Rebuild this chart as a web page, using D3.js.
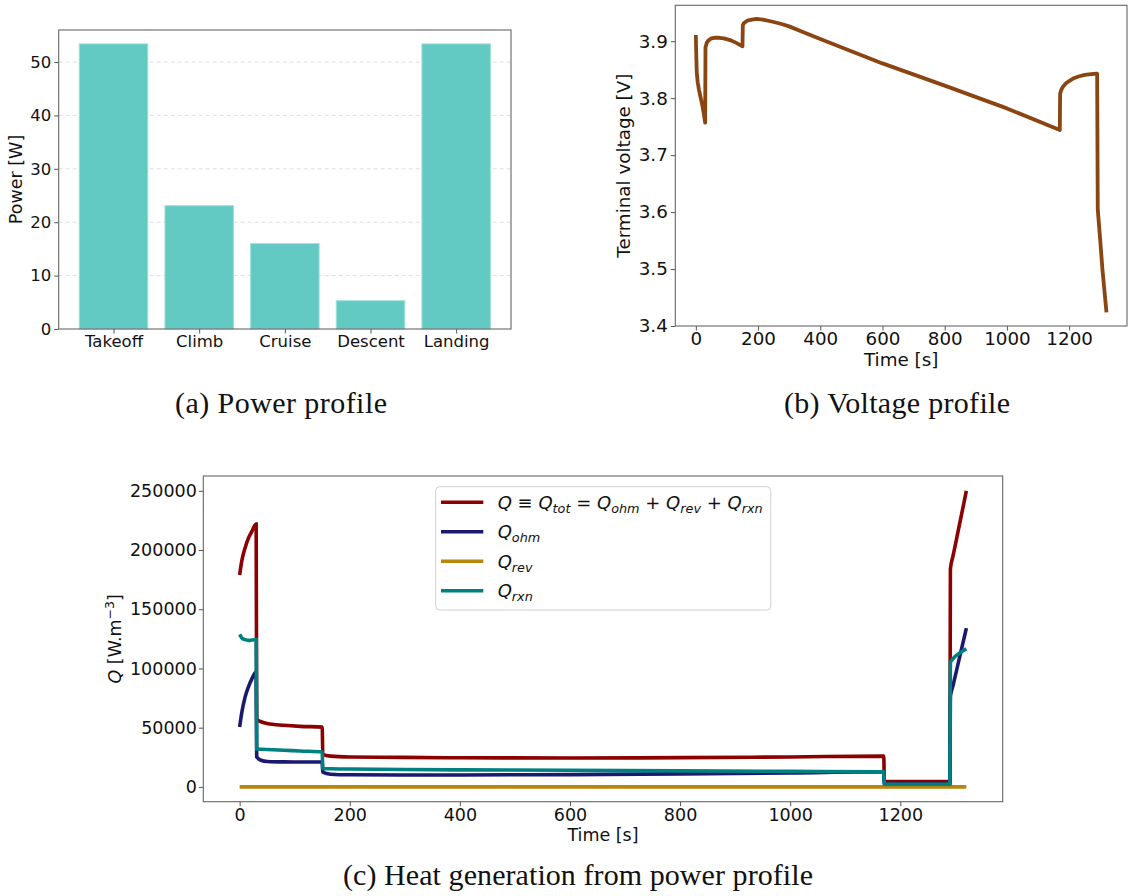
<!DOCTYPE html>
<html>
<head>
<meta charset="utf-8">
<script src="https://cdn.jsdelivr.net/npm/d3@7"></script>
<style>
    body { margin: 0; background: #fff; }
    svg text { font-family: "DejaVu Sans", sans-serif; fill: #111; }
    .caption { font-family: "Liberation Serif", serif; }
</style>
</head>
<body>
<div id="figure"></div>
<script>
// Panel (a): power profile
const phases = ["Takeoff", "Climb", "Cruise", "Descent", "Landing"];
const power = [53.4, 23.1, 16.0, 5.3, 53.4];
const powerTicks = [0, 10, 20, 30, 40, 50];

// Panel (b): terminal voltage
const voltTime = [0, 1, 3, 6, 10, 15, 20, 25, 30, 31, 35, 40, 50, 60, 75, 90, 110, 130, 150, 151, 155, 165, 180, 195, 215, 240, 270, 300, 350, 400, 600, 800, 1000, 1170, 1171, 1175, 1180, 1190, 1200, 1215, 1230, 1250, 1270, 1290, 1292, 1300, 1307, 1320];
const voltage = [3.911, 3.885, 3.845, 3.828, 3.815, 3.802, 3.790, 3.775, 3.757, 3.889, 3.897, 3.901, 3.905, 3.906, 3.906, 3.905, 3.902, 3.897, 3.891, 3.928, 3.932, 3.936, 3.938, 3.939, 3.938, 3.935, 3.931, 3.926, 3.915, 3.904, 3.861, 3.822, 3.782, 3.744, 3.808, 3.815, 3.820, 3.826, 3.830, 3.835, 3.838, 3.841, 3.842, 3.843, 3.605, 3.550, 3.500, 3.424];
const voltTicks = [3.4, 3.5, 3.6, 3.7, 3.8, 3.9];
const timeTicks = [0, 200, 400, 600, 800, 1000, 1200];

// Panel (c): heat generation
const timeQ = [0, 4, 10, 16, 22, 30, 31, 40, 50, 80, 110, 150, 151, 165, 200, 300, 400, 600, 800, 1000, 1170, 1171, 1290, 1291, 1296, 1302, 1308, 1314, 1320];
const qTot = [179000, 191000, 202000, 210000, 215500, 222000, 56800, 54800, 53500, 52000, 51100, 50500, 27500, 26000, 25300, 24900, 24600, 24400, 24700, 25300, 26000, 4500, 4500, 184000, 195400, 209000, 222700, 236300, 250000];
const qOhm = [50600, 63000, 76000, 84500, 91000, 97000, 25300, 22300, 21500, 21100, 21000, 21000, 12400, 10700, 10200, 10000, 10100, 10400, 11000, 11800, 12800, 2300, 2300, 76000, 86000, 98000, 110000, 122000, 134000];
const qRev = [0, 0, 0, 0, 0, 0, 0, 0, 0, 0, 0, 0, 0, 0, 0, 0, 0, 0, 0, 0, 0, 0, 0, 0, 0, 0, 0, 0, 0];
const qRxn = [128700, 125800, 124300, 123700, 124000, 124500, 32000, 31800, 31600, 31000, 30300, 29500, 15500, 15300, 15100, 14700, 14400, 14000, 13500, 13100, 12700, 2200, 2200, 105000, 108300, 111000, 113000, 115000, 116600];
const qTicks = [0, 50000, 100000, 150000, 200000, 250000];

document.addEventListener('DOMContentLoaded', function () {
    const width = 1130;
    const height = 896;

    const svg = d3.select("#figure")
        .append("svg")
        .attr("width", width)
        .attr("height", height);

    // small helper to style an axis like matplotlib
    function styleAxis(g, size) {
        g.select(".domain").remove();
        g.selectAll(".tick line").attr("stroke", "#555").attr("stroke-width", 1);
        g.selectAll(".tick text").attr("font-size", size).attr("fill", "#111");
    }

    function frame(box) {
        svg.append("rect")
            .attr("x", box.left).attr("y", box.top)
            .attr("width", box.right - box.left)
            .attr("height", box.bottom - box.top)
            .attr("fill", "none")
            .attr("stroke", "#666")
            .attr("stroke-width", 1.1);
    }

    function caption(text, cx, y, len) {
        svg.append("text")
            .attr("class", "caption")
            .attr("x", cx).attr("y", y)
            .attr("text-anchor", "middle")
            .attr("font-size", 30)
            .attr("textLength", len)
            .attr("lengthAdjust", "spacing")
            .text(text);
    }

    // ---------------- (a) bar chart ----------------
    const boxA = { left: 58.7, top: 30, right: 511, bottom: 329 };
    const xA = d3.scaleLinear().domain([-0.64, 4.64]).range([boxA.left, boxA.right]);
    const yA = d3.scaleLinear().domain([0, 56]).range([boxA.bottom, boxA.top]);

    // dashed grid
    svg.append("g")
        .selectAll("line")
        .data(powerTicks.slice(1))
        .enter().append("line")
        .attr("x1", boxA.left).attr("x2", boxA.right)
        .attr("y1", d => yA(d)).attr("y2", d => yA(d))
        .attr("stroke", "#d6d6d6")
        .attr("stroke-dasharray", "4,3")
        .attr("stroke-width", 0.8);

    svg.append("g")
        .selectAll("rect")
        .data(power)
        .enter().append("rect")
        .attr("x", (d, i) => xA(i - 0.4))
        .attr("width", xA(0.4) - xA(-0.4))
        .attr("y", d => yA(d))
        .attr("height", d => yA(0) - yA(d))
        .attr("fill", "#63c9c3")
        .attr("stroke", "#9fe0db")
        .attr("stroke-width", 1);

    const axA_y = svg.append("g")
        .attr("transform", `translate(${boxA.left},0)`)
        .call(d3.axisLeft(yA).tickValues(powerTicks).tickFormat(d3.format("d")).tickSize(4.5).tickPadding(3));
    styleAxis(axA_y, 16.5);

    const axA_x = svg.append("g")
        .attr("transform", `translate(0,${boxA.bottom})`)
        .call(d3.axisBottom(xA).tickValues(d3.range(phases.length)).tickFormat(i => phases[i]).tickSize(4.5).tickPadding(2));
    styleAxis(axA_x, 16.5);

    frame(boxA);

    svg.append("text")
        .attr("transform", `translate(22,${(boxA.top + boxA.bottom) / 2}) rotate(-90)`)
        .attr("text-anchor", "middle")
        .attr("font-size", 17.5)
        .text("Power [W]");

    caption("(a) Power profile", 281, 413, 212);

    // ---------------- (b) voltage ----------------
    const boxB = { left: 675.3, top: 5.3, right: 1127, bottom: 326 };
    const xB = d3.scaleLinear().domain([-66, 1386]).range([boxB.left, boxB.right]);
    const yB = d3.scaleLinear().domain([3.4, 3.963]).range([boxB.bottom, boxB.top]);

    const voltLine = d3.line()
        .x((d, i) => xB(voltTime[i]))
        .y(d => yB(d));

    svg.append("path")
        .datum(voltage)
        .attr("d", voltLine)
        .attr("fill", "none")
        .attr("stroke", "#8b4513")
        .attr("stroke-width", 3.8)
        .attr("stroke-linejoin", "round");

    const axB_y = svg.append("g")
        .attr("transform", `translate(${boxB.left},0)`)
        .call(d3.axisLeft(yB).tickValues(voltTicks).tickFormat(d3.format(".1f")).tickSize(4.5).tickPadding(3));
    styleAxis(axB_y, 18.3);

    const axB_x = svg.append("g")
        .attr("transform", `translate(0,${boxB.bottom})`)
        .call(d3.axisBottom(xB).tickValues(timeTicks).tickFormat(d3.format("d")).tickSize(4.5).tickPadding(2));
    styleAxis(axB_x, 18.3);

    frame(boxB);

    svg.append("text")
        .attr("x", (boxB.left + boxB.right) / 2)
        .attr("y", 366)
        .attr("text-anchor", "middle")
        .attr("font-size", 18.3)
        .text("Time [s]");

    svg.append("text")
        .attr("transform", `translate(629.5,${(boxB.top + boxB.bottom) / 2}) rotate(-90)`)
        .attr("text-anchor", "middle")
        .attr("font-size", 18.3)
        .text("Terminal voltage [V]");

    caption("(b) Voltage profile", 897, 413, 226);

    // ---------------- (c) heat generation ----------------
    const boxC = { left: 203.3, top: 476, right: 1002.7, bottom: 801.7 };
    const xC = d3.scaleLinear().domain([-66, 1386]).range([boxC.left, boxC.right]);
    const yC = d3.scaleLinear().domain([-12500, 262500]).range([boxC.bottom, boxC.top]);

    const qLine = d3.line()
        .x((d, i) => xC(timeQ[i]))
        .y(d => yC(d))
        .curve(d3.curveMonotoneX);

    const series = [
        { name: "tot", values: qTot, color: "#8b0000" },
        { name: "ohm", values: qOhm, color: "#191970" },
        { name: "rev", values: qRev, color: "#b8860b" },
        { name: "rxn", values: qRxn, color: "#008080" }
    ];

    svg.append("g")
        .selectAll("path")
        .data(series)
        .enter().append("path")
        .attr("d", d => qLine(d.values))
        .attr("fill", "none")
        .attr("stroke", d => d.color)
        .attr("stroke-width", 3.6);

    const axC_y = svg.append("g")
        .attr("transform", `translate(${boxC.left},0)`)
        .call(d3.axisLeft(yC).tickValues(qTicks).tickFormat(d3.format("d")).tickSize(4.5).tickPadding(2));
    styleAxis(axC_y, 17.5);

    const axC_x = svg.append("g")
        .attr("transform", `translate(0,${boxC.bottom})`)
        .call(d3.axisBottom(xC).tickValues(timeTicks).tickFormat(d3.format("d")).tickSize(4.5).tickPadding(2));
    styleAxis(axC_x, 17.5);

    frame(boxC);

    svg.append("text")
        .attr("x", (boxC.left + boxC.right) / 2)
        .attr("y", 841)
        .attr("text-anchor", "middle")
        .attr("font-size", 17.5)
        .text("Time [s]");

    const yLabC = svg.append("text")
        .attr("transform", `translate(121,${(boxC.top + boxC.bottom) / 2}) rotate(-90)`)
        .attr("text-anchor", "middle")
        .attr("font-size", 17.5);
    yLabC.append("tspan").attr("font-style", "italic").text("Q");
    yLabC.append("tspan").text(" [W.m");
    yLabC.append("tspan").attr("font-size", 12.5).attr("dy", -7).text("\u22123");
    yLabC.append("tspan").attr("dy", 7).text("]");

    // legend
    svg.append("rect")
        .attr("x", 435.7).attr("y", 486.7)
        .attr("width", 335).attr("height", 123.3)
        .attr("rx", 4)
        .attr("fill", "white").attr("fill-opacity", 0.8)
        .attr("stroke", "#d0d0d0");

    const legendRows = [
        [["Q", "i"], [" \u2261 ", "n"], ["Q", "i"], ["tot", "s"], [" = ", "n"], ["Q", "i"], ["ohm", "s"], [" + ", "n"], ["Q", "i"], ["rev", "s"], [" + ", "n"], ["Q", "i"], ["rxn", "s"]],
        [["Q", "i"], ["ohm", "s"]],
        [["Q", "i"], ["rev", "s"]],
        [["Q", "i"], ["rxn", "s"]]
    ];

    legendRows.forEach(function (row, k) {
        const cy = 502.3 + k * 29.5;
        svg.append("line")
            .attr("x1", 441).attr("x2", 483.3)
            .attr("y1", cy).attr("y2", cy)
            .attr("stroke", series[k].color)
            .attr("stroke-width", 3.6);
        const t = svg.append("text")
            .attr("x", 497.7).attr("y", cy + 6.5)
            .attr("font-size", 18);
        let shifted = false;
        row.forEach(function (part) {
            const ts = t.append("tspan").text(part[0]);
            if (part[1] === "i") ts.attr("font-style", "italic");
            if (part[1] === "s") {
                ts.attr("font-style", "italic").attr("font-size", 12.8).attr("dy", 4);
                shifted = true;
            } else if (shifted) {
                ts.attr("dy", -4);
                shifted = false;
            }
        });
    });

    caption("(c) Heat generation from power profile", 578, 885, 470);
});
</script>
</body>
</html>
